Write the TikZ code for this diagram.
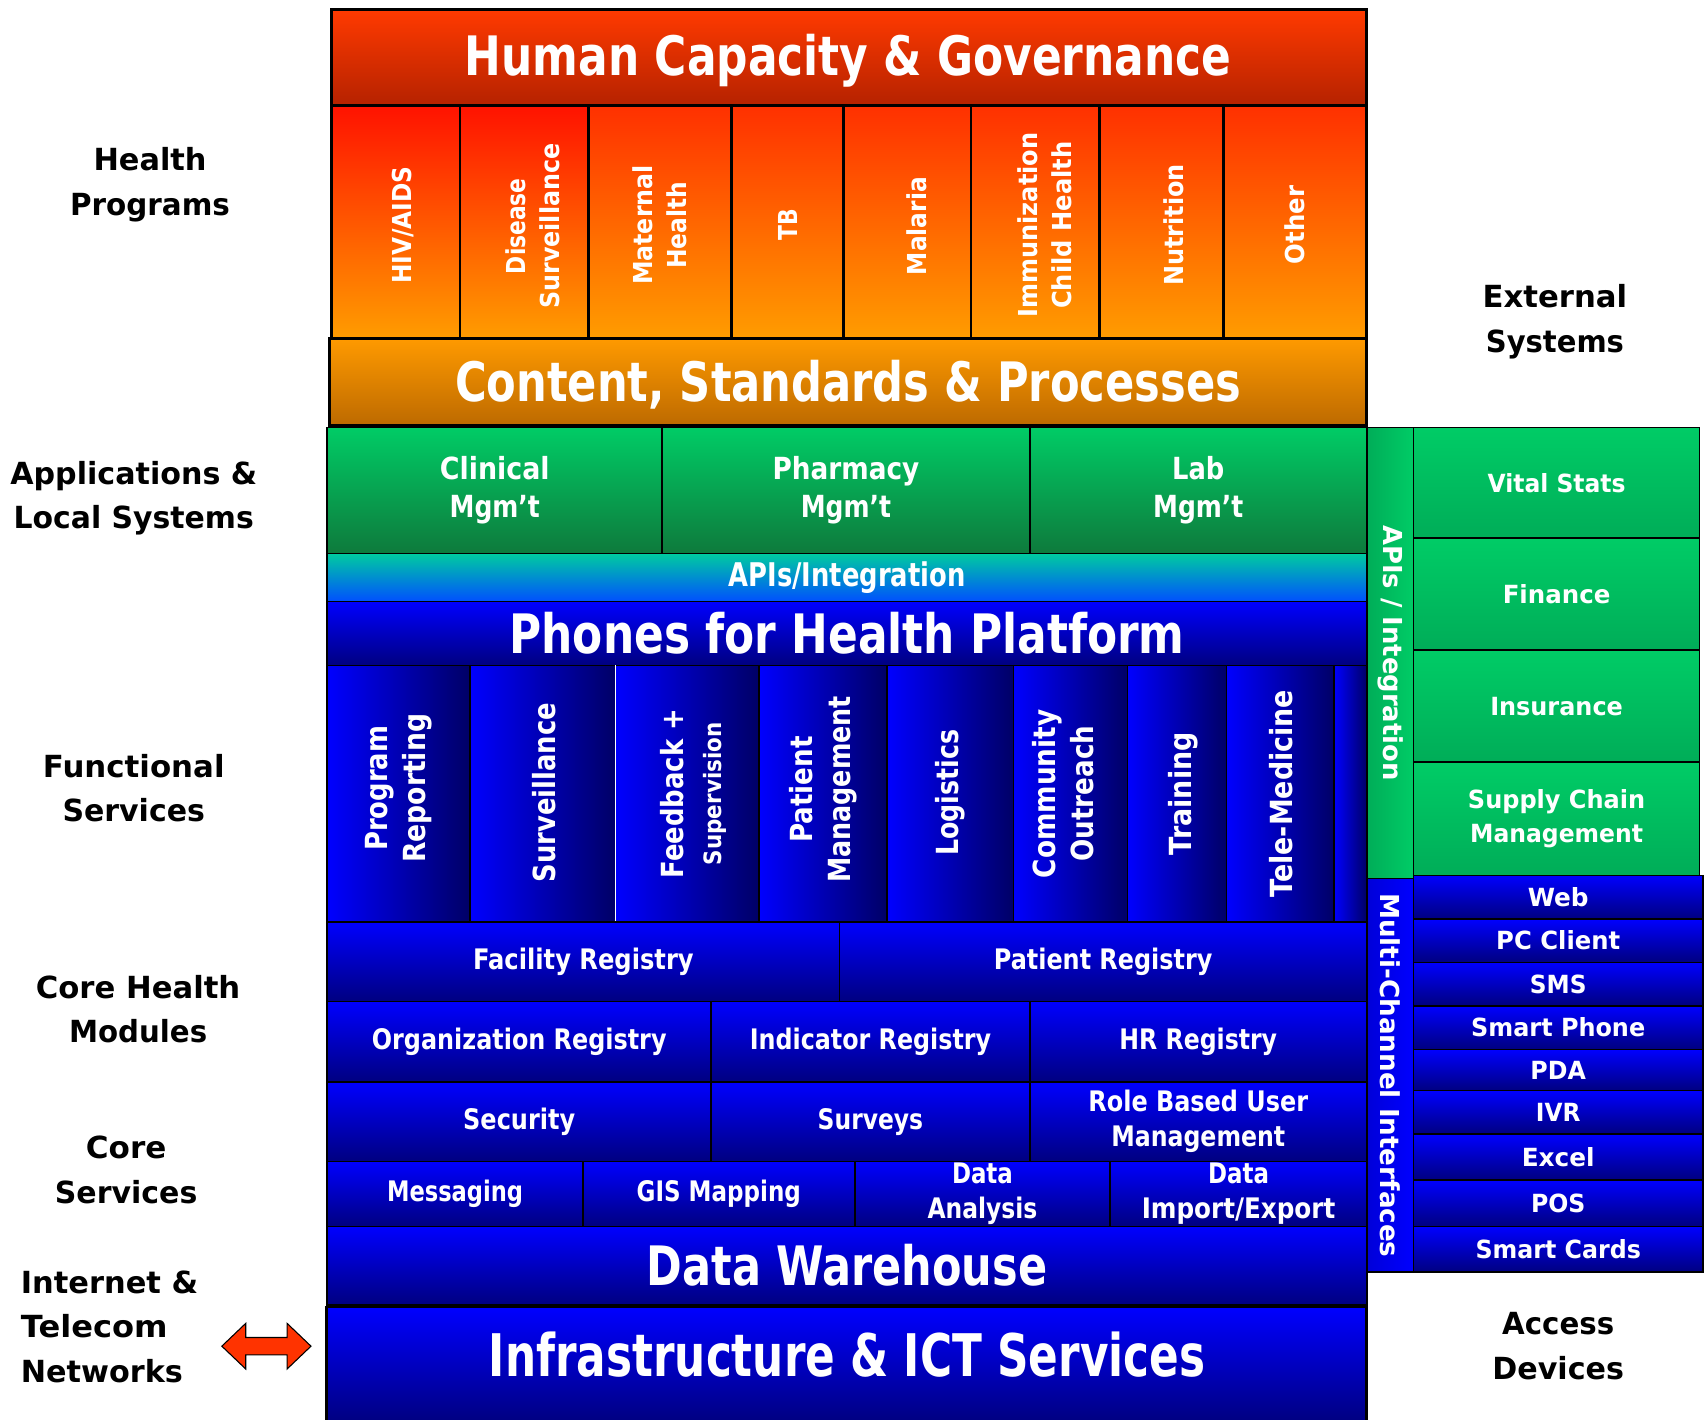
\documentclass[tikz,border=0pt]{standalone}
\usepackage{fontspec}
\setmainfont{DejaVu Sans}
\usepackage{graphicx}
\newcommand\fw[2]{\resizebox{#1pt}{\height}{#2}}
\newcommand\blk[7]{\node[box,#5,minimum width={(#3-#1)*1pt},minimum height={(#4-#2)*1pt}] (#6) at ({(#1+#3)/2},{(#2+#4)/2}) {#7};}
\definecolor{hcgT}{HTML}{FF3A00}
\definecolor{hcgB}{HTML}{B52200}
\definecolor{hpT}{HTML}{FF3000}
\definecolor{hpTT}{HTML}{FF1200}
\definecolor{hpB}{HTML}{FF9C00}
\definecolor{csT}{HTML}{FF9A00}
\definecolor{csB}{HTML}{BD6A00}
\definecolor{grT}{HTML}{00CC66}
\definecolor{grB}{HTML}{0E7A3C}
\definecolor{apT}{HTML}{00CCA0}
\definecolor{apB}{HTML}{0050FF}
\definecolor{blT}{HTML}{0000FF}
\definecolor{blB}{HTML}{000080}
\definecolor{fnL}{HTML}{0000FF}
\definecolor{fnR}{HTML}{000066}
\definecolor{rgT}{HTML}{00CC66}
\definecolor{rgB}{HTML}{00AD58}
\definecolor{arr}{HTML}{FF3300}
\begin{document}
\begin{tikzpicture}[x=1pt,y=-1pt,
  box/.style={draw=black,line width=1.5pt,inner sep=0pt,outer sep=0pt,text=white,align=center},
  thick box/.style={line width=2.5pt},
  fbig/.style={font=\fontsize{50}{60}\selectfont\bfseries},
  fmid/.style={font=\fontsize{26}{32}\selectfont\bfseries},
  fapp/.style={font=\fontsize{28}{35}\selectfont\bfseries},
  fside/.style={font=\fontsize{23}{32}\selectfont\bfseries},
  hprog/.style={top color=hpT,bottom color=hpB},
  blue/.style={top color=blT,bottom color=blB},
  func/.style={left color=fnL,right color=fnR},
  green/.style={top color=grT,bottom color=grB},
  rgreen/.style={top color=rgT,bottom color=rgB},
  vtxt/.style={text=white,inner sep=0pt,align=center,font=\fontsize{24}{31}\selectfont\bfseries},
  ftxt/.style={text=white,inner sep=0pt,align=center,font=\fontsize{28}{35}\selectfont\bfseries},
  lbl/.style={text=black,inner sep=0pt,align=center,font=\fontsize{28}{41}\selectfont\bfseries}]
\useasboundingbox (0,0) rectangle (1568,1305);
\fill[white] (0,0) rectangle (1568,1305);

% ---- top orange/red section
\blk{305}{9}{1257}{97}{thick box,top color=hcgT,bottom color=hcgB}{hcg}{}
\node[text=white,inner sep=0pt,fbig] (hcgt) at (780,56) {\fw{705}{Human Capacity \& Governance}};
\blk{305}{97}{423}{311}{thick box,top color=hpTT,bottom color=hpB}{hp1}{}
\blk{423}{97}{541}{311}{thick box,top color=hpTT,bottom color=hpB}{hp2}{}
\blk{541}{97}{673}{311}{thick box,hprog}{hp3}{}
\blk{673}{97}{776}{311}{thick box,hprog}{hp4}{}
\blk{776}{97}{893}{311}{thick box,hprog}{hp5}{}
\blk{893}{97}{1011}{311}{thick box,hprog}{hp6}{}
\blk{1011}{97}{1125}{311}{thick box,hprog}{hp7}{}
\blk{1125}{97}{1257}{311}{thick box,hprog}{hp8}{}
\node[vtxt,rotate=90] (t1) at (371,207) {\fw{108}{HIV/AIDS}};
\node[vtxt,rotate=90] (t2) at (490,208) {\fw{88}{Disease}\\\fw{152}{Surveillance}};
\node[vtxt,rotate=90] (t3) at (607,207) {\fw{110}{Maternal}\\\fw{80}{Health}};
\node[vtxt,rotate=90] (t4) at (725,207) {\fw{29}{TB}};
\node[vtxt,rotate=90] (t5) at (843,208) {\fw{90}{Malaria}};
\node[vtxt,rotate=90] (t6) at (961,207) {\fw{170}{Immunization}\\\fw{154}{Child Health}};
\node[vtxt,rotate=90] (t7) at (1079,207) {\fw{112}{Nutrition}};
\node[vtxt,rotate=90] (t8) at (1191,207) {\fw{72}{Other}};
\blk{303}{311}{1257}{391}{thick box,top color=csT,bottom color=csB}{csp}{}
\node[text=white,inner sep=0pt,fbig] (cspt) at (780,354) {\fw{723}{Content, Standards \& Processes}};

% ---- applications
\blk{301}{393}{609}{509}{green,fapp}{app1}{\fw{101}{Clinical}\\\fw{83}{Mgm’t}}
\blk{609}{393}{947}{509}{green,fapp}{app2}{\fw{135}{Pharmacy}\\\fw{83}{Mgm’t}}
\blk{947}{393}{1257}{509}{green,fapp}{app3}{\fw{48}{Lab}\\\fw{83}{Mgm’t}}
\blk{301}{509}{1257}{553}{top color=apT,bottom color=apB,font=\fontsize{30}{36}\selectfont\bfseries}{api}{\fw{218}{APIs/Integration}}
\blk{301}{553}{1257}{612}{blue,fbig}{p4h}{\fw{621}{Phones for Health Platform}}

% ---- functional services
\blk{301}{612}{432}{848}{func}{f1}{}
\blk{432}{612}{566}{848}{func}{f2}{}
\blk{566}{612}{698}{848}{func}{f3}{}
\blk{698}{612}{816}{848}{func}{f4}{}
\blk{816}{612}{932}{848}{func}{f5}{}
\blk{932}{612}{1037}{848}{func}{f6}{}
\blk{1037}{612}{1128}{848}{func}{f7}{}
\blk{1128}{612}{1227}{848}{func}{f8}{}
\blk{1227}{612}{1257}{848}{func}{f9}{}
\draw[white,line width=1.5pt] (f3.north west) -- (f3.south west);
\node[ftxt,rotate=90] (s1) at (367,725) {\fw{115}{Program}\\\fw{137}{Reporting}};
\node[ftxt,rotate=90] (s2) at (500,729) {\fw{165}{Surveillance}};
\node[ftxt,rotate=90] (s3) at (638,730) {\fw{156}{Feedback +}\\{\fontsize{22}{28}\selectfont\fw{131}{Supervision}}};
\node[ftxt,rotate=90] (s4) at (757,726) {\fw{98}{Patient}\\\fw{172}{Management}};
\node[ftxt,rotate=90] (s5) at (874,729) {\fw{116}{Logistics}};
\node[ftxt,rotate=90] (s6) at (978,730) {\fw{155}{Community}\\\fw{125}{Outreach}};
\node[ftxt,rotate=90] (s7) at (1088,730) {\fw{113}{Training}};
\node[ftxt,rotate=90] (s8) at (1178,730) {\fw{191}{Tele-Medicine}};

% ---- core health modules / core services
\blk{301}{848}{772}{921}{blue,fmid}{fac}{\fw{203}{Facility Registry}}
\blk{772}{848}{1257}{921}{blue,fmid}{pat}{\fw{201}{Patient Registry}}
\blk{301}{921}{654}{995}{blue,fmid}{org}{\fw{271}{Organization Registry}}
\blk{654}{921}{947}{995}{blue,fmid}{ind}{\fw{222}{Indicator Registry}}
\blk{947}{921}{1257}{995}{blue,fmid}{hr}{\fw{145}{HR Registry}}
\blk{301}{995}{654}{1068}{blue,fmid}{sec}{\fw{103}{Security}}
\blk{654}{995}{947}{1068}{blue,fmid}{sur}{\fw{97}{Surveys}}
\blk{947}{995}{1257}{1068}{blue,fmid}{rbu}{\fw{202}{Role Based User}\\\fw{160}{Management}}
\blk{301}{1068}{536}{1128}{blue,fmid}{msg}{\fw{125}{Messaging}}
\blk{536}{1068}{786}{1128}{blue,fmid}{gis}{\fw{151}{GIS Mapping}}
\blk{786}{1068}{1021}{1128}{blue,fmid}{dan}{\fw{56}{Data}\\\fw{101}{Analysis}}
\blk{1021}{1068}{1257}{1128}{blue,fmid}{die}{\fw{56}{Data}\\\fw{178}{Import/Export}}
\blk{301}{1128}{1257}{1200}{blue,fbig}{dw}{\fw{368}{Data Warehouse}}
\blk{300}{1202}{1257}{1308}{thick box,top color=blT,bottom color=blB}{infra}{}
\node[text=white,inner sep=0pt,font=\fontsize{54}{60}\selectfont\bfseries] (infratxt) at (779,1246) {\fw{659}{Infrastructure \& ICT Services}};

% ---- external systems
\blk{1257}{393}{1300}{808}{left color=rgB,right color=rgT}{apiv}{}
\node[vtxt,rotate=-90] (apivt) at (apiv.center) {\fw{235}{APIs / Integration}};
\blk{1300}{393}{1563}{495}{rgreen,fside}{vs}{\fw{127}{Vital Stats}}
\blk{1300}{495}{1563}{598}{rgreen,fside}{fin}{\fw{99}{Finance}}
\blk{1300}{598}{1563}{701}{rgreen,fside}{ins}{\fw{122}{Insurance}}
\blk{1300}{701}{1563}{805}{rgreen,fside}{scm}{\fw{163}{Supply Chain}\\\fw{159}{Management}}

% ---- access devices
\blk{1257}{808}{1300}{1170}{left color=blT!85!black,right color=blT}{mci}{}
\node[vtxt,rotate=-90] (mcit) at (mci.center) {\fw{335}{Multi-Channel Interfaces}};
\blk{1300}{805}{1566}{845}{blue,fside}{d1}{\fw{56}{Web}}
\blk{1300}{845}{1566}{885}{blue,fside}{d2}{\fw{114}{PC Client}}
\blk{1300}{885}{1566}{925}{blue,fside}{d3}{\fw{52}{SMS}}
\blk{1300}{925}{1566}{965}{blue,fside}{d4}{\fw{160}{Smart Phone}}
\blk{1300}{965}{1566}{1003}{blue,fside}{d5}{\fw{51}{PDA}}
\blk{1300}{1003}{1566}{1043}{blue,fside}{d6}{\fw{41}{IVR}}
\blk{1300}{1043}{1566}{1085}{blue,fside}{d7}{\fw{67}{Excel}}
\blk{1300}{1085}{1566}{1128}{blue,fside}{d8}{\fw{50}{POS}}
\blk{1300}{1128}{1566}{1170}{blue,fside}{d9}{\fw{152}{Smart Cards}}

% ---- side labels
\node[lbl] (lhp) at (138,170) {\fw{104}{Health}\\\fw{147}{Programs}};
\node[lbl] (lapp) at (123,458) {\fw{227}{Applications \&}\\\fw{221}{Local Systems}};
\node[lbl] (lfs) at (123,725) {\fw{167}{Functional}\\\fw{131}{Services}};
\node[lbl] (lchm) at (127,928) {\fw{188}{Core Health}\\\fw{127}{Modules}};
\node[lbl] (lcs) at (116,1076) {\fw{74}{Core}\\\fw{131}{Services}};
\node[lbl,align=left,anchor=west] (lnet) at (19,1220) {\fw{163}{Internet \&}\\\fw{135}{Telecom}\\\fw{149}{Networks}};
\node[lbl] (lext) at (1430,296) {\fw{133}{External}\\\fw{127}{Systems}};
\node[lbl] (lacc) at (1433,1238) {\fw{103}{Access}\\\fw{121}{Devices}};

% ---- double arrow
\draw[fill=arr,draw=black,line width=1pt,line join=miter]
  (204,1238) -- (226,1217) -- (226,1230) -- (264,1230) -- (264,1217) -- (286,1238)
  -- (264,1259) -- (264,1246) -- (226,1246) -- (226,1259) -- cycle;
\end{tikzpicture}
\end{document}
